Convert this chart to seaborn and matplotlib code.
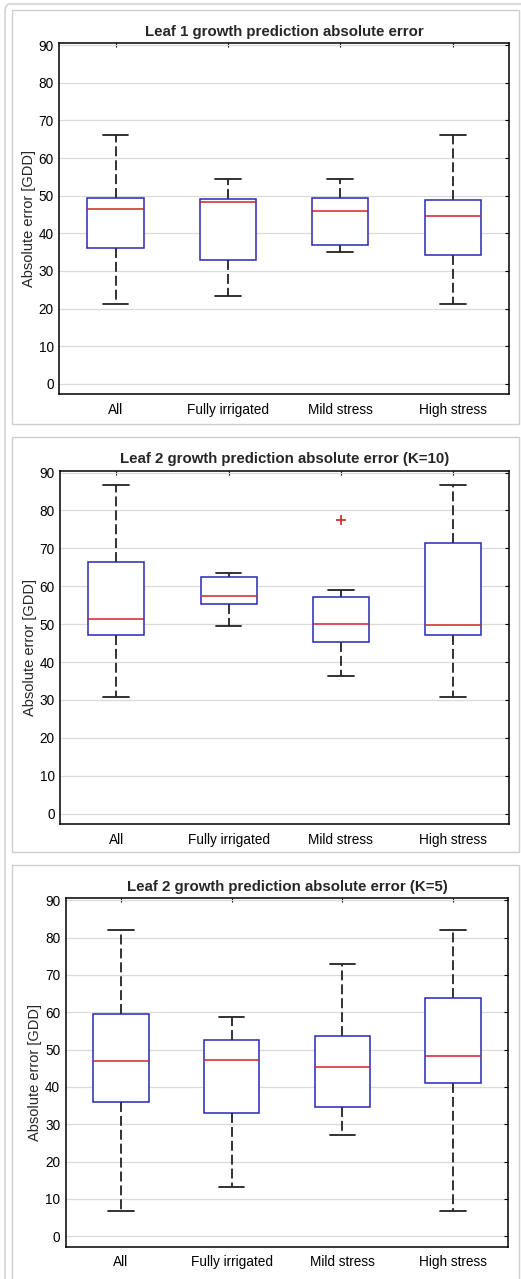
import numpy as np
import pandas as pd
import matplotlib.pyplot as plt
import seaborn as sns
from matplotlib.patches import Rectangle, FancyBboxPatch

sns.set_style('white')
plt.rcParams['font.family'] = ['Liberation Sans', 'DejaVu Sans']

categories = ['All', 'Fully irrigated', 'Mild stress', 'High stress']

# five-number summaries (lower whisker, Q1, median, Q3, upper whisker)
leaf1_low = [21.2, 23.4, 35.1, 21.2]
leaf1_q1 = [36.2, 32.9, 36.9, 34.2]
leaf1_med = [46.5, 48.2, 45.9, 44.6]
leaf1_q3 = [49.5, 49.2, 49.5, 48.9]
leaf1_high = [66.1, 54.4, 54.4, 66.1]

k10_low = [30.7, 49.5, 36.4, 30.7]
k10_q1 = [47.1, 55.2, 45.2, 47.1]
k10_med = [51.5, 57.4, 50.0, 49.8]
k10_q3 = [66.4, 62.5, 57.1, 71.3]
k10_high = [86.8, 63.4, 59.1, 86.8]
k10_outlier_cat = ['Mild stress']
k10_outlier_val = [77.5]

k5_low = [6.8, 13.3, 27.0, 6.8]
k5_q1 = [36.0, 33.1, 34.6, 41.1]
k5_med = [46.9, 47.1, 45.4, 48.2]
k5_q3 = [59.4, 52.5, 53.7, 63.7]
k5_high = [82.0, 58.6, 73.0, 82.0]

titles = ['Leaf 1 growth prediction absolute error',
          'Leaf 2 growth prediction absolute error (K=10)',
          'Leaf 2 growth prediction absolute error (K=5)']


def to_long(low, q1, med, q3, high):
    # five points per group -> quartiles land exactly on the summary values
    rows = []
    for i, cat in enumerate(categories):
        for v in (low[i], q1[i], med[i], q3[i], high[i]):
            rows.append({'group': cat, 'value': v})
    return pd.DataFrame(rows)


panels = [
    (to_long(leaf1_low, leaf1_q1, leaf1_med, leaf1_q3, leaf1_high), [], []),
    (to_long(k10_low, k10_q1, k10_med, k10_q3, k10_high), k10_outlier_cat, k10_outlier_val),
    (to_long(k5_low, k5_q1, k5_med, k5_q3, k5_high), [], []),
]

W, H = 521, 1279
fig = plt.figure(figsize=(W / 100, H / 100), dpi=100)

# axes boxes in pixels: left, right, top, bottom
ax_px = [(59.3, 509, 43.3, 394.3), (60.3, 509, 470.7, 824.3), (65.7, 508.3, 898.3, 1246.7)]
frame_px = [(12, 10, 519, 424), (12, 437, 519, 852), (12, 865, 519, 1295)]

# outer frame
fig.patches.append(FancyBboxPatch((5 / W, 1 - 1300 / H), 530 / W, 1296 / H,
                                  boxstyle='round,pad=0,rounding_size=0.008',
                                  transform=fig.transFigure, fill=False,
                                  edgecolor='#d4d4d4', linewidth=1.2))
for (x0, y0, x1, y1) in frame_px:
    fig.patches.append(Rectangle((x0 / W, 1 - y1 / H), (x1 - x0) / W, (y1 - y0) / H,
                                 transform=fig.transFigure, fill=False,
                                 edgecolor='#cfcfcf', linewidth=1.0))

box_col = '#2828b4'
med_col = '#d02424'

for (df, out_cat, out_val), title, (l, r, t, b) in zip(panels, titles, ax_px):
    ax = fig.add_axes([l / W, 1 - b / H, (r - l) / W, (b - t) / H])
    sns.boxplot(data=df, x='group', y='value', order=categories, ax=ax,
                whis=(0, 100), width=0.5, showfliers=False, linewidth=1.1,
                color='white', linecolor=box_col, capwidths=0.23,
                boxprops=dict(facecolor='white', edgecolor=box_col, linewidth=1.1, zorder=3),
                medianprops=dict(color=med_col, linewidth=1.1, zorder=4),
                whiskerprops=dict(color='#222222', linestyle=(0, (5.5, 2.2)), linewidth=1.3),
                capprops=dict(color='#222222', linewidth=1.3))
    if out_cat:
        sns.scatterplot(x=[categories.index(c) for c in out_cat], y=out_val, ax=ax,
                        marker='+', color=med_col, s=50, linewidth=1.2, zorder=5)

    ax.set_xlim(-0.5, 3.5)
    ax.set_ylim(-2.8, 90.5)
    ax.set_yticks(np.arange(0, 91, 10))
    ax.yaxis.grid(True, color='#dadada', linewidth=0.9)
    ax.xaxis.grid(False)
    ax.set_axisbelow(True)
    for s in ax.spines.values():
        s.set_color('black')
        s.set_linewidth(1.1)
    ax.tick_params(axis='both', direction='in', length=3, width=0.8,
                   top=True, right=True, labelsize=9.8, colors='black')
    ax.tick_params(axis='x', pad=6)
    ax.tick_params(axis='y', pad=4)
    ax.set_xlabel('')
    ax.set_ylabel('Absolute error [GDD]', fontsize=10.5, labelpad=2)
    ax.set_title(title, fontsize=10.8, fontweight='bold', pad=5.5)

fig.savefig('out.png', dpi=100)
